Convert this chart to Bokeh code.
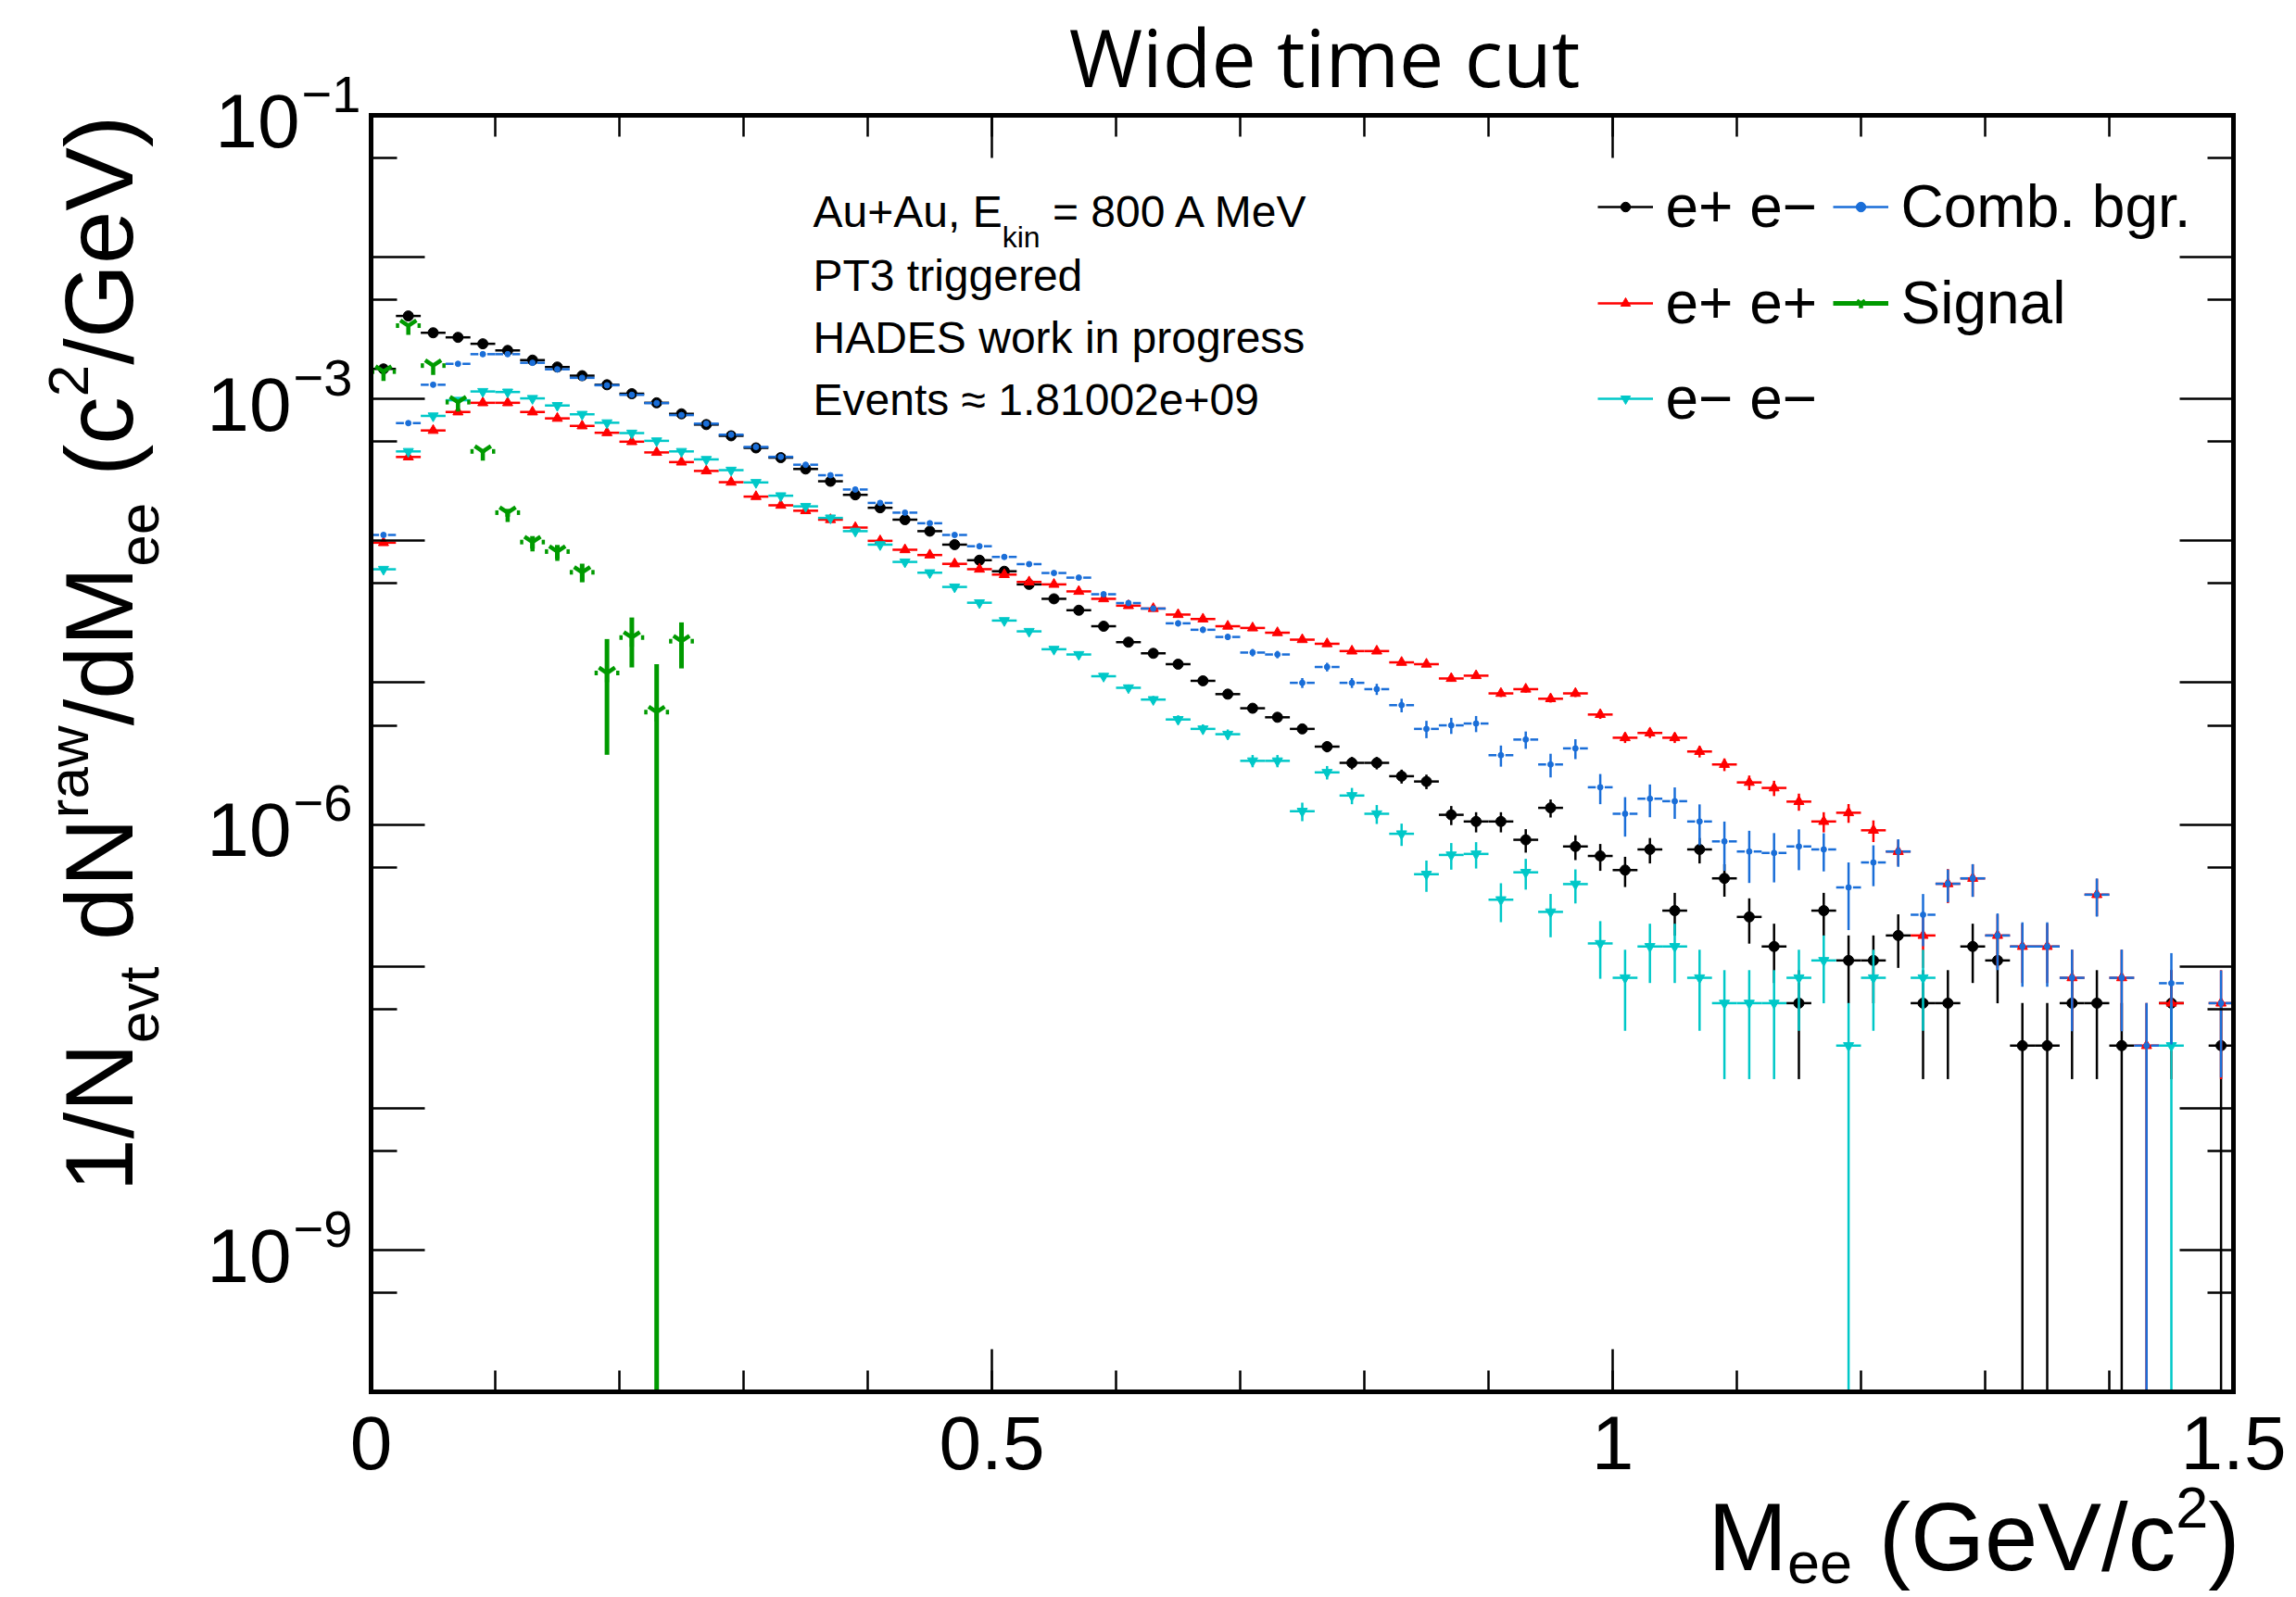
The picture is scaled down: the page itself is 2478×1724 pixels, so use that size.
import numpy as np
from math import pi
from bokeh.plotting import figure
from bokeh.models import (Label, FixedTicker, LogAxis, LinearAxis, Legend, LegendItem,
                          ColumnDataSource, Range1d, CustomJSTickFormatter)
from bokeh.embed import file_html
from bokeh.resources import INLINE

# ------------------------------------------------------------------ data
bin_width = 0.02
n_bins = 75
mass = [round(bin_width * (k + 0.5), 3) for k in range(n_bins)]   # bin centres (GeV/c^2)
n_events = 1.81002e9

ee_pm = [1.63e-3, 3.85e-3, 2.93e-3, 2.72e-3, 2.45e-3, 2.20e-3, 1.88e-3, 1.68e-3, 1.46e-3, 1.26e-3,
         1.09e-3, 9.4e-4, 7.86e-4, 6.6e-4, 5.5e-4, 4.52e-4, 3.86e-4, 3.21e-4, 2.63e-4, 2.11e-4,
         1.71e-4, 1.41e-4, 1.17e-4, 9.4e-5, 7.3e-5, 6.1e-5, 4.93e-5, 3.90e-5, 3.24e-5, 2.50e-5,
         1.93e-5, 1.61e-5, 1.35e-5, 1.03e-5, 8.3e-6, 6.6e-6, 5.7e-6, 4.72e-6, 3.54e-6, 2.72e-6,
         2.72e-6, 2.19e-6, 2.01e-6, 1.17e-6, 1.05e-6, 1.05e-6, 7.8e-7, 1.31e-6, 7.0e-7, 6.0e-7,
         4.77e-7, 6.67e-7, 2.47e-7, 6.67e-7, 4.17e-7, 2.23e-7, 1.38e-7, 5.5e-8, 2.47e-7, 1.1e-7,
         1.1e-7, 1.65e-7, 5.5e-8, 5.5e-8, 1.38e-7, 1.1e-7, 2.76e-8, 2.76e-8, 5.5e-8, 5.5e-8,
         2.76e-8, 0, 5.5e-8, 0, 2.76e-8]

ee_pp = [9.7e-5, 3.9e-4, 6.0e-4, 8.1e-4, 9.4e-4, 9.4e-4, 8.1e-4, 7.3e-4, 6.46e-4, 5.78e-4,
         5.0e-4, 4.2e-4, 3.59e-4, 3.11e-4, 2.59e-4, 2.05e-4, 1.78e-4, 1.63e-4, 1.41e-4, 1.24e-4,
         1.0e-4, 8.65e-5, 7.94e-5, 6.88e-5, 6.31e-5, 5.78e-5, 5.13e-5, 4.93e-5, 4.40e-5, 3.90e-5,
         3.49e-5, 3.33e-5, 3.02e-5, 2.81e-5, 2.50e-5, 2.43e-5, 2.25e-5, 2.01e-5, 1.88e-5, 1.67e-5,
         1.67e-5, 1.39e-5, 1.35e-5, 1.07e-5, 1.12e-5, 8.4e-6, 9.0e-6, 7.7e-6, 8.4e-6, 5.96e-6,
         4.09e-6, 4.42e-6, 4.09e-6, 3.27e-6, 2.65e-6, 1.98e-6, 1.81e-6, 1.45e-6, 1.05e-6, 1.21e-6,
         9.1e-7, 6.45e-7, 1.65e-7, 3.82e-7, 4.17e-7, 1.65e-7, 1.38e-7, 1.38e-7, 8.3e-8, 3.2e-7,
         8.3e-8, 2.76e-8, 5.5e-8, 0, 5.5e-8]

ee_mm = [6.3e-5, 4.27e-4, 7.6e-4, 9.8e-4, 1.13e-3, 1.12e-3, 1.01e-3, 9.0e-4, 7.8e-4, 6.8e-4,
         5.75e-4, 5.07e-4, 4.27e-4, 3.75e-4, 3.15e-4, 2.58e-4, 2.08e-4, 1.75e-4, 1.45e-4, 1.17e-4,
         9.4e-5, 7.1e-5, 5.96e-5, 4.73e-5, 3.66e-5, 2.74e-5, 2.30e-5, 1.72e-5, 1.58e-5, 1.11e-5,
         9.2e-6, 7.6e-6, 5.5e-6, 4.72e-6, 4.33e-6, 2.81e-6, 2.81e-6, 1.24e-6, 2.33e-6, 1.60e-6,
         1.19e-6, 8.6e-7, 4.46e-7, 6.1e-7, 6.2e-7, 2.95e-7, 4.6e-7, 2.42e-7, 3.8e-7, 1.45e-7,
         8.3e-8, 1.38e-7, 1.38e-7, 8.3e-8, 5.5e-8, 5.5e-8, 5.5e-8, 8.3e-8, 1.1e-7, 2.76e-8,
         8.3e-8, 0, 8.3e-8, 0, 0, 0, 0, 0, 0, 0,
         0, 0, 2.76e-8, 0, 0]

comb_bg = [1.10e-4, 6.76e-4, 1.26e-3, 1.77e-3, 2.07e-3, 2.07e-3, 1.80e-3, 1.62e-3, 1.41e-3, 1.25e-3,
           1.07e-3, 9.35e-4, 7.7e-4, 6.7e-4, 5.6e-4, 4.59e-4, 3.91e-4, 3.44e-4, 2.90e-4, 2.30e-4,
           1.85e-4, 1.58e-4, 1.33e-4, 1.10e-4, 9.16e-5, 7.7e-5, 6.85e-5, 5.93e-5, 5.50e-5, 4.20e-5,
           3.64e-5, 3.33e-5, 2.62e-5, 2.36e-5, 2.10e-5, 1.63e-5, 1.58e-5, 9.97e-6, 1.29e-5, 9.97e-6,
           9.0e-6, 6.94e-6, 4.72e-6, 5.0e-6, 5.15e-6, 3.08e-6, 3.97e-6, 2.65e-6, 3.44e-6, 1.83e-6,
           1.19e-6, 1.52e-6, 1.46e-6, 1.05e-6, 7.6e-7, 6.45e-7, 6.3e-7, 7.0e-7, 6.67e-7, 3.6e-7,
           5.4e-7, 6.45e-7, 2.31e-7, 3.82e-7, 4.17e-7, 1.65e-7, 1.38e-7, 1.38e-7, 8.3e-8, 3.2e-7,
           8.3e-8, 2.76e-8, 7.6e-8, 0, 5.5e-8]

comb_bg_relerr = [0.02] * 31 + [0.04, 0.05, 0.05, 0.05, 0.06, 0.06,
                  0.08, 0.07, 0.08, 0.09, 0.11, 0.14, 0.13, 0.13, 0.17, 0.14,
                  0.19, 0.16, 0.24, 0.31, 0.26, 0.25, 0.32, 0.38, 0.40, 0.38,
                  0.32, 0.30, 0.50, 0.32, 0.22, 0.40, 0.26, 0.26, 0.43, 0.48,
                  0.48, 0.58, 0.30, 0.58, 1.0, 0.63, 0.0, 0.7]

signal = [1.56e-3, 3.29e-3, 1.72e-3, 9.5e-4, 4.27e-4, 1.58e-4, 9.8e-5, 8.4e-5, 6.0e-5, 1.17e-5,
          2.08e-5, 6.2e-6, 1.96e-5] + [0] * 62
signal_err = [7e-6, 1.1e-5, 1.1e-5, 1.1e-5, 1.1e-5, 1.0e-5, 1.0e-5, 9.5e-6, 9e-6, 8.6e-6,
              8e-6, 7.3e-6, 7e-6] + [0] * 62

x_lim = (0.0, 1.5)
y_lim = (1e-10, 1e-1)
x_ticks = [0, 0.5, 1, 1.5]
x_tick_labels = ["0", "0.5", "1", "1.5"]
y_label_exponents = [-1, -3, -6, -9]

# ------------------------------------------------------------------ geometry / style
W, H = 2478, 1724
FL, FR, FT, FB = 400, 2410, 124, 1502          # ROOT frame position on the canvas (px)
PXU = (FR - FL) / (x_lim[1] - x_lim[0])
DEC = (FB - FT) / (np.log10(y_lim[1]) - np.log10(y_lim[0]))
FONT = "Liberation Sans"
CORR = 0.37     # baseline correction for Label text (fraction of font size)

C_PM, C_PP, C_MM, C_BG, C_SIG = "#000000", "#ff0000", "#00c8c8", "#1a6ed8", "#009a00"

ARIAL = {' ': 278, '!': 278, '(': 333, ')': 333, '+': 584, ',': 278, '-': 333, '.': 278, '/': 278,
         '=': 584, '\u2212': 584, '\u2248': 584,
         'A': 667, 'B': 667, 'C': 722, 'D': 722, 'E': 667, 'F': 611, 'G': 778, 'H': 722, 'I': 278,
         'K': 667, 'M': 833, 'N': 722, 'P': 667, 'S': 667, 'T': 611, 'V': 667, 'W': 944,
         'a': 556, 'b': 556, 'c': 500, 'd': 556, 'e': 556, 'g': 556, 'i': 222, 'k': 500, 'l': 222,
         'm': 833, 'n': 556, 'o': 556, 'p': 556, 'r': 333, 's': 500, 't': 278, 'u': 556, 'v': 500,
         'w': 722}
for ch in "0123456789":
    ARIAL[ch] = 556

# the plotting frame covers the whole canvas; the ranges are widened so that the
# data window [x_lim] x [y_lim] lands exactly on the ROOT frame rectangle
x0 = x_lim[0] - FL / PXU
x1 = x_lim[1] + (W - FR) / PXU
ly0 = np.log10(y_lim[0]) - (H - FB) / DEC
ly1 = np.log10(y_lim[1]) + FT / DEC

p = figure(width=W, height=H, x_range=Range1d(x0, x1), y_range=Range1d(10 ** ly0, 10 ** ly1),
           y_axis_type="log", output_backend="svg", toolbar_location=None, title=None,
           min_border_left=0, min_border_right=0, min_border_top=0, min_border_bottom=0)
p.xgrid.visible = False
p.ygrid.visible = False
p.background_fill_color = "white"
p.border_fill_color = "white"
p.outline_line_color = None

x_ticker = FixedTicker(ticks=x_ticks, minor_ticks=[round(0.1 * i, 1) for i in range(16)])
y_ticker = FixedTicker(ticks=[10.0 ** e for e in range(-10, 0)],
                       minor_ticks=[5 * 10.0 ** e for e in range(-10, -1)])


def style_axis(ax, ticker, major_len, minor_len, loc, bounds):
    ax.ticker = ticker
    ax.fixed_location = loc
    ax.bounds = bounds
    ax.major_tick_in = major_len
    ax.major_tick_out = 0
    ax.minor_tick_in = minor_len
    ax.minor_tick_out = 0
    ax.major_tick_line_width = 2.5
    ax.minor_tick_line_width = 2.5
    ax.major_tick_line_color = "black"
    ax.minor_tick_line_color = "black"
    ax.axis_line_color = "black"
    ax.axis_line_width = 5
    ax.axis_line_cap = "square"
    ax.formatter = CustomJSTickFormatter(code="return ''")
    ax.major_label_standoff = 0
    ax.axis_label = None


style_axis(p.xaxis[0], x_ticker, 46, 23, y_lim[0], x_lim)
style_axis(p.yaxis[0], y_ticker, 58, 28, x_lim[0], y_lim)
top_ax = LinearAxis()
style_axis(top_ax, x_ticker, 46, 23, y_lim[1], x_lim)
p.add_layout(top_ax, "above")
right_ax = LogAxis()
style_axis(right_ax, y_ticker, 58, 28, x_lim[1], y_lim)
p.add_layout(right_ax, "right")

# ------------------------------------------------------------------ series
unit = 1.0 / (n_events * bin_width)   # one entry per bin


def poisson(vals):
    return [float(np.sqrt(v * unit)) if v > 0 else 0.0 for v in vals]


def draw(vals, errs, color, marker, msize, lw, mlw=1.0, gap=0.0, fill=True):
    keep = [i for i, v in enumerate(vals) if v > 0]
    x = [mass[i] for i in keep]
    y = [vals[i] for i in keep]
    e = [errs[i] for i in keep]
    src = ColumnDataSource(dict(
        x=x, y=y,
        xl=[m - bin_width / 2 for m in x], xr=[m + bin_width / 2 for m in x],
        xg1=[m - gap for m in x], xg2=[m + gap for m in x],
        lo=[max(v - s, y_lim[0]) for v, s in zip(y, e)],
        hi=[min(v + s, y_lim[1]) for v, s in zip(y, e)]))
    p.segment("x", "lo", "x", "hi", source=src, line_color=color, line_width=lw)
    if gap > 0:
        h1 = p.segment("xl", "y", "xg1", "y", source=src, line_color=color, line_width=lw)
        h2 = p.segment("xg2", "y", "xr", "y", source=src, line_color=color, line_width=lw)
        hs = [h1, h2]
    else:
        hs = [p.segment("xl", "y", "xr", "y", source=src, line_color=color, line_width=lw)]
    rm = p.scatter("x", "y", source=src, marker=marker, size=msize,
                   fill_color=color if fill else None, line_color=color, line_width=mlw)
    return hs + [rm]


r_pm = draw(ee_pm, poisson(ee_pm), C_PM, "circle", 11, 2.5)
r_pp = draw(ee_pp, poisson(ee_pp), C_PP, "triangle", 11, 2.5)
r_mm = draw(ee_mm, poisson(ee_mm), C_MM, "inverted_triangle", 11, 2.5)
r_bg = draw(comb_bg, [v * r for v, r in zip(comb_bg, comb_bg_relerr)], C_BG, "circle", 6, 2.5,
            gap=bin_width * 0.18)
r_sig = draw(signal, signal_err, C_SIG, "y", 20, 5, mlw=4.5, gap=bin_width * 0.37, fill=False)


# ------------------------------------------------------------------ text helpers
def add_text(text, sx, sy, size, font=FONT, align="left", angle=0.0, x_data=False):
    """sx, sy: canvas pixel position of the text baseline start (from top-left)."""
    if angle == 0.0:
        x, y = sx, H - sy + CORR * size
    else:
        x, y = sx - CORR * size, H - sy
    p.add_layout(Label(x=x, y=y, x_units="data" if x_data else "screen", y_units="screen",
                       text=text, text_font=font, text_font_size=f"{size}px",
                       text_align=align, text_baseline="alphabetic", angle=angle,
                       text_color="black"))


def twidth(s, size):
    return sum(ARIAL.get(c, 556) for c in s) * size / 1000.0


def rich_text(pieces, sx, sy, F, f, sub_dy, sup_dy, vertical=False, align="left"):
    sizes = [F if k == "n" else f for _, k in pieces]
    widths = [twidth(t, s) for (t, _), s in zip(pieces, sizes)]
    off = -sum(widths) if align == "right" else 0.0
    pos = 0.0
    for (t, k), s, w in zip(pieces, sizes, widths):
        body = t.lstrip(" ")
        lead = twidth(t[:len(t) - len(body)], s)
        shift = 0.0 if k == "n" else (sub_dy if k == "sub" else -sup_dy)
        at = off + pos + lead
        if not vertical:
            add_text(body, sx + at, sy + shift, s)
        else:
            add_text(body, sx + shift, sy - at, s, angle=pi / 2)
        pos += w


# title
add_text("Wide time cut", 1429, 92, 86, font="Open Sans", align="center")

# tick labels
for xv, lbl in zip(x_ticks, x_tick_labels):
    add_text(lbl, xv, 1587, 82, align="center", x_data=True)
for e in y_label_exponents:
    ty = FT + (np.log10(y_lim[1]) - e) * DEC
    dx = 9 if e == -1 else 0
    add_text("10", 314 + dx, ty + 36, 82, align="right")
    add_text("\u2212" + str(-e), 316 + dx, ty - 2, 56)

# axis titles
rich_text([("M", "n"), ("ee", "sub"), (" (GeV/c", "n"), ("2", "sup"), (")", "n")],
          2417, 1697, 103, 63, 13, 47, align="right")
rich_text([("1/N", "n"), ("evt", "sub"), (" dN", "n"), ("raw", "sup"), ("/dM", "n"),
           ("ee", "sub"), (" (c", "n"), ("2", "sup"), ("/GeV)", "n")],
          145, 1286, 103, 62, 27, 49, vertical=True)

# info text
rich_text([("Au+Au, E", "n"), ("kin", "sub"), (" = 800 A MeV", "n")],
          877, 245.6, 48, 32, 22, 0)
add_text("PT3 triggered", 877, 314.5, 48)
add_text("HADES work in progress", 877, 381.6, 48)
add_text("Events \u2248 1.81002e+09", 877, 448.6, 48)


# legend (one Legend per entry, ROOT-style two-column layout)
def legend_entry(renderers, label, line_x0, row_cy):
    lg = Legend(items=[LegendItem(label=" ", renderers=renderers)],
                location=(line_x0, H - (row_cy + 13)),
                glyph_width=60, glyph_height=26, label_height=26, label_width=0,
                label_standoff=0, label_text_font_size="1px", padding=0, margin=0, spacing=0,
                border_line_alpha=0, background_fill_alpha=0)
    p.add_layout(lg)
    add_text(label, line_x0 + 73, row_cy + 23.5, 64)


legend_entry([r_pm[0], r_pm[-1]], "e+ e\u2212", 1724, 223)
legend_entry([r_pp[0], r_pp[-1]], "e+ e+", 1724, 327)
legend_entry([r_mm[0], r_mm[-1]], "e\u2212 e\u2212", 1724, 430)
legend_entry([r_bg[0], r_bg[-1]], "Comb. bgr.", 1978, 223)
legend_entry([r_sig[0], r_sig[-1]], "Signal", 1978, 327)

open("out.html", "w").write(file_html(p, INLINE))
